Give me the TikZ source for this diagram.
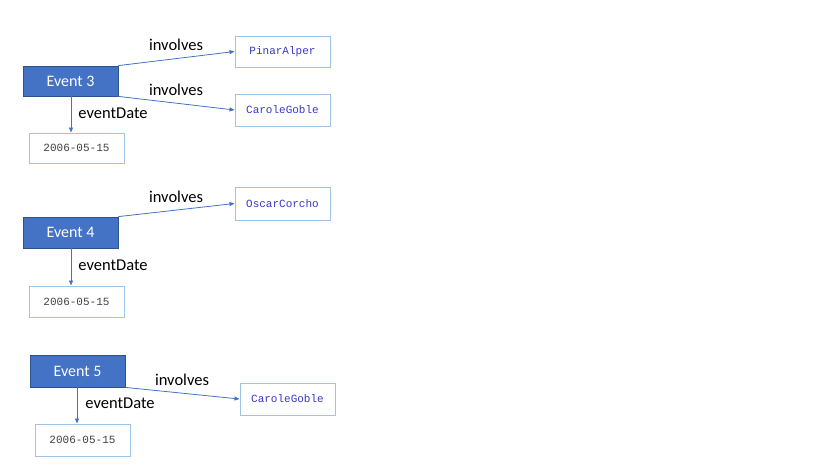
\documentclass[tikz,border=0pt]{standalone}
\usepackage{fontspec}
\setmainfont{Carlito}
\newfontfamily\monof{Liberation Mono}
\usetikzlibrary{arrows.meta}
\definecolor{evfill}{HTML}{4472C4}
\definecolor{evdraw}{HTML}{2F528F}
\definecolor{litdraw}{HTML}{9DC3E6}
\definecolor{arr}{HTML}{4472C4}
\definecolor{uri}{HTML}{3A3AC8}
\definecolor{dat}{HTML}{404040}
\tikzset{
  evbox/.style={draw=evdraw, fill=evfill, line width=0.8pt, text=white, font=\fontsize{16}{19}\selectfont, inner sep=0pt},
  litbox/.style={draw=litdraw, fill=white, line width=1pt, inner sep=0pt},
  uritext/.style={text=uri, font=\monof\fontsize{11}{13}\selectfont},
  datetext/.style={text=dat, font=\monof\fontsize{11}{13}\selectfont},
  rel/.style={draw=arr, line width=0.8pt, -{Triangle[length=5pt,width=4pt]}},
  lbl/.style={font=\fontsize{16.5}{19}\selectfont, text=black}
}
\begin{document}
\begin{tikzpicture}[x=1pt,y=-1pt]
\useasboundingbox (0,0) rectangle (835,467);
% Event 3 group
\node[evbox, minimum width=95pt, minimum height=30pt] (e3) at (70.5,81) {Event 3};
\node[litbox, uritext, minimum width=95pt, minimum height=31pt] (p1) at (282.5,51.5) {PinarAlper};
\node[litbox, uritext, minimum width=95pt, minimum height=32pt] (c1) at (282.5,110) {CaroleGoble};
\node[litbox, datetext, minimum width=95pt, minimum height=30pt] (d3) at (76.5,148) {2006-05-15};
\draw[rel] (e3.north east) -- (p1.west);
\draw[rel] (e3.south east) -- (c1.west);
\draw[rel] (e3.south -| 71,0) -- (d3.north -| 71,0);
\node[lbl] (l1) at (176,45) {involves};
\node[lbl] (l2) at (176,90) {involves};
\node[lbl] (l3) at (113,113) {eventDate};
% Event 4 group
\node[evbox, minimum width=95pt, minimum height=31pt] (e4) at (70.5,232.5) {Event 4};
\node[litbox, uritext, minimum width=95pt, minimum height=33pt] (o1) at (282.5,203.5) {OscarCorcho};
\node[litbox, datetext, minimum width=95pt, minimum height=31pt] (d4) at (76.5,301.5) {2006-05-15};
\draw[rel] (e4.north east) -- (o1.west);
\draw[rel] (e4.south -| 71,0) -- (d4.north -| 71,0);
\node[lbl] (l4) at (176,197) {involves};
\node[lbl] (l5) at (113,265) {eventDate};
% Event 5 group
\node[evbox, minimum width=95pt, minimum height=32pt] (e5) at (77.5,371) {Event 5};
\node[litbox, uritext, minimum width=95pt, minimum height=32pt] (c2) at (287.5,399) {CaroleGoble};
\node[litbox, datetext, minimum width=95pt, minimum height=32pt] (d5) at (82.5,440) {2006-05-15};
\draw[rel] (e5.south east) -- (c2.west);
\draw[rel] (e5.south -| 77,0) -- (d5.north -| 77,0);
\node[lbl] (l6) at (182,380) {involves};
\node[lbl] (l7) at (120,403) {eventDate};
\end{tikzpicture}
\end{document}
